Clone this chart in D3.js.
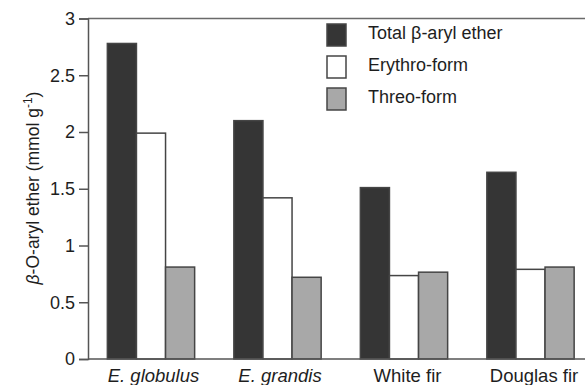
<!DOCTYPE html>
<html>
<head>
<meta charset="utf-8">
<script src="https://cdn.jsdelivr.net/npm/d3@7"></script>
<style>
  html, body { margin: 0; padding: 0; background: #fff; }
  svg { display: block; font-family: "Liberation Sans", Arial, sans-serif; }
</style>
</head>
<body>
<svg id="chart" width="585" height="385"></svg>
<script>
// Wood species and the three β-aryl ether measures (mmol g-1)
const species = ["E. globulus", "E. grandis", "White fir", "Douglas fir"];
const italicSpecies = ["E. globulus", "E. grandis"];
const seriesNames = ["Total β-aryl ether", "Erythro-form", "Threo-form"];
const totalEther = [2.78, 2.10, 1.51, 1.645];
const erythroForm = [1.99, 1.42, 0.735, 0.79];
const threoForm = [0.81, 0.72, 0.765, 0.81];
const yTicks = [0, 0.5, 1, 1.5, 2, 2.5, 3];

const seriesValues = [totalEther, erythroForm, threoForm];
const fills = ["#353535", "#ffffff", "#a8a8a8"];
const strokeCol = "#454545";
const textCol = "#1e1e1e";

const svg = d3.select("#chart");
const plotLeft = 88, plotTop = 18.5, plotBottom = 359, plotRight = 593.5;

const y = d3.scaleLinear().domain([0, 3]).range([plotBottom, plotTop]);
const x0 = d3.scaleBand().domain(species).range([plotLeft, plotRight])
  .paddingInner(0.31).paddingOuter(0.153);
const x1 = d3.scaleBand().domain(seriesNames).range([0, x0.bandwidth()]).padding(0);

const rows = species.map((s, i) => ({
  species: s,
  values: seriesNames.map((n, j) => ({ name: n, value: seriesValues[j][i], idx: j }))
}));

// bars
const groups = svg.append("g").selectAll("g").data(rows).join("g")
  .attr("transform", d => `translate(${x0(d.species)},0)`);
groups.selectAll("rect").data(d => d.values).join("rect")
  .attr("x", d => x1(d.name))
  .attr("y", d => y(d.value))
  .attr("width", x1.bandwidth())
  .attr("height", d => y(0) - y(d.value))
  .attr("fill", d => fills[d.idx])
  .attr("stroke", strokeCol)
  .attr("stroke-width", 1.5);

// frame: top line and x baseline
svg.append("line").attr("x1", plotLeft).attr("x2", 585).attr("y1", plotTop).attr("y2", plotTop)
  .attr("stroke", "#6a6a6a").attr("stroke-width", 1.5);
svg.append("line").attr("x1", plotLeft).attr("x2", 585).attr("y1", plotBottom).attr("y2", plotBottom)
  .attr("stroke", "#555").attr("stroke-width", 1.5);

// y axis
const yAxis = svg.append("g").attr("transform", `translate(${plotLeft},0)`)
  .call(d3.axisLeft(y).tickValues(yTicks).tickSize(9).tickPadding(4)
    .tickFormat(d => String(d)));
yAxis.select(".domain").attr("stroke", "#555").attr("stroke-width", 1.5);
yAxis.selectAll(".tick line").attr("stroke", "#555").attr("stroke-width", 1.5);
yAxis.selectAll(".tick text").attr("font-size", 18).attr("fill", textCol)
  .attr("font-family", "Liberation Sans, Arial, sans-serif");

// x labels
svg.append("g").selectAll("text").data(species).join("text")
  .attr("x", d => x0(d) + x0.bandwidth() / 2 + (italicSpecies.includes(d) ? 2.5 : 3.5))
  .attr("y", 381.5)
  .attr("text-anchor", "middle")
  .attr("font-size", 18.5)
  .attr("fill", textCol)
  .attr("font-style", d => italicSpecies.includes(d) ? "italic" : "normal")
  .text(d => d);

// y title
const yt = svg.append("text")
  .attr("transform", "translate(39,188) rotate(-90)")
  .attr("text-anchor", "middle")
  .attr("font-size", 17.5)
  .attr("fill", textCol);
yt.append("tspan").attr("font-style", "italic").text("β");
yt.append("tspan").text("-O-aryl ether (mmol g");
yt.append("tspan").attr("font-size", 12).attr("dy", -7).text("-1");
yt.append("tspan").attr("dy", 7).text(")");

// legend
const legend = svg.append("g").selectAll("g").data(seriesNames).join("g")
  .attr("transform", (d, i) => `translate(327,${24 + i * 32})`);
legend.append("rect")
  .attr("width", 19).attr("height", 22)
  .attr("fill", (d, i) => fills[i])
  .attr("stroke", strokeCol).attr("stroke-width", 1.5);
legend.append("text")
  .attr("x", 41).attr("y", 9).attr("dy", "0.35em")
  .attr("font-size", 18).attr("fill", textCol)
  .text(d => d);
</script>
</body>
</html>
